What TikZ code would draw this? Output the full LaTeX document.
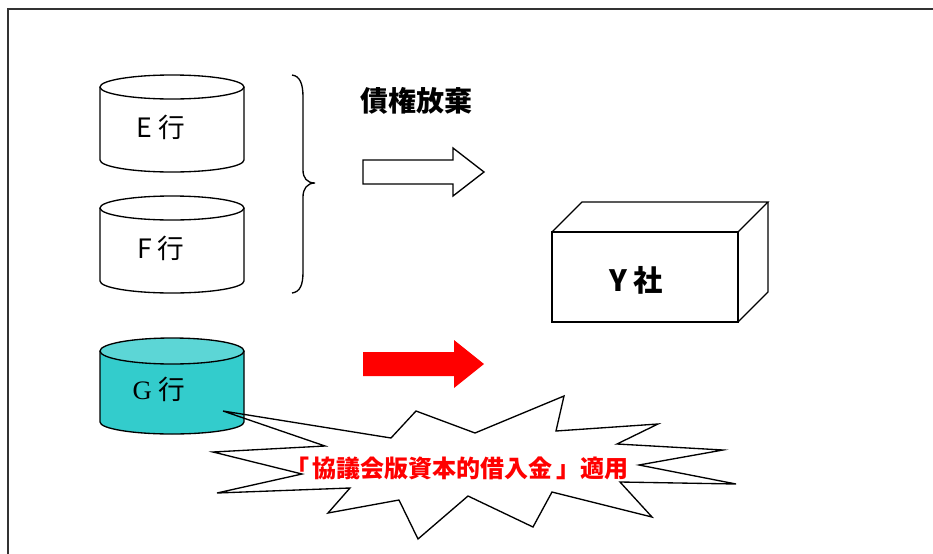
\documentclass[tikz,border=0pt]{standalone}
\usepackage{fontspec}
\setmainfont{Liberation Serif}
\newfontfamily\gothic{Noto Sans CJK JP}
\usepackage{tikz}
\definecolor{tuerkis}{RGB}{51,204,204}
\definecolor{tuerkishell}{RGB}{92,214,214}

\begin{document}
\begin{tikzpicture}[x=0.75pt,y=-0.75pt,line width=1pt,
    banktext/.style={font=\gothic\fontsize{20}{24}\selectfont},
    boldtext/.style={font=\gothic\bfseries\fontsize{#1}{#1}\selectfont}]
    % Bildgroesse und Rahmen (rechts und unten abgeschnitten)
    \useasboundingbox (0,0) rectangle (933,554);
    \clip (0,0) rectangle (933,554);
    \draw[line width=1.2pt,black!80] (8,9) rectangle (950,570);

    % Halbachsen der Zylinder
    \def\rx{72}
    \def\ry{12}

    % Zylinder E und F
    \foreach \name/\yt in {E/87,F/208} {
        \draw (100,\yt) -- (100,\yt+73) arc[start angle=180,end angle=0,x radius=\rx,y radius=\ry] -- (244,\yt);
        \draw (172,\yt) ellipse [x radius=\rx,y radius=\ry];
        \node[banktext] (bank\name) at (161,\yt+40) {\name\ 行};
    }

    % Zylinder G (gefuellt)
    \filldraw[fill=tuerkis] (100,351) -- (100,422) arc[start angle=180,end angle=0,x radius=\rx,y radius=\ry] -- (244,351);
    \filldraw[fill=tuerkishell] (172,351) ellipse [x radius=\rx,y radius=13];
    \node (bankG) at (159,389) {\fontsize{20}{24}\selectfont G\ {\gothic 行}};

    % Geschweifte Klammer
    \draw (292,75) .. controls (300,76) and (303,84) .. (303,97) -- (303,170)
        .. controls (303,178) and (307,183) .. (315,183)
        .. controls (307,183) and (303,189) .. (303,197) -- (303,272)
        .. controls (303,285) and (300,292) .. (292,293);

    % Beschriftung oben
    \node[boldtext=21] (waiver) at (416,101) {債権放棄};

    % Blockpfeile
    \draw (363,160) -- (453,160) -- (453,148) -- (484,172) -- (453,196) -- (453,184) -- (363,184) -- cycle;
    \fill[red] (363,352) -- (454,352) -- (454,340) -- (484,364) -- (454,388) -- (454,376) -- (363,376) -- cycle;

    % Quader Y
    \draw (552,232) rectangle (738,322);
    \draw (552,232) -- (582,202) -- (768,202) -- (738,232);
    \draw (768,202) -- (768,292) -- (738,322);
    \node[boldtext=22] (firmY) at (636,280) {Y 社};

    % Explosion mit Spitze auf G
    \draw (223,411) -- (391,438) -- (416,411) -- (475,433) -- (564,396) -- (556,431)
        -- (658,424) -- (617,444) -- (723,450) -- (639,465) -- (736,484) -- (620,482)
        -- (652,517) -- (552,492) -- (533,527) -- (468,496) -- (418,539) -- (399,500)
        -- (328,513) -- (350,488) -- (217,493) -- (302,474) -- (213,452) -- (325,446) -- cycle;
    \node[boldtext=18,text=red] (note) at (457,468) {「\,協議会版資本的借入金\,」適用};
\end{tikzpicture}
\end{document}
